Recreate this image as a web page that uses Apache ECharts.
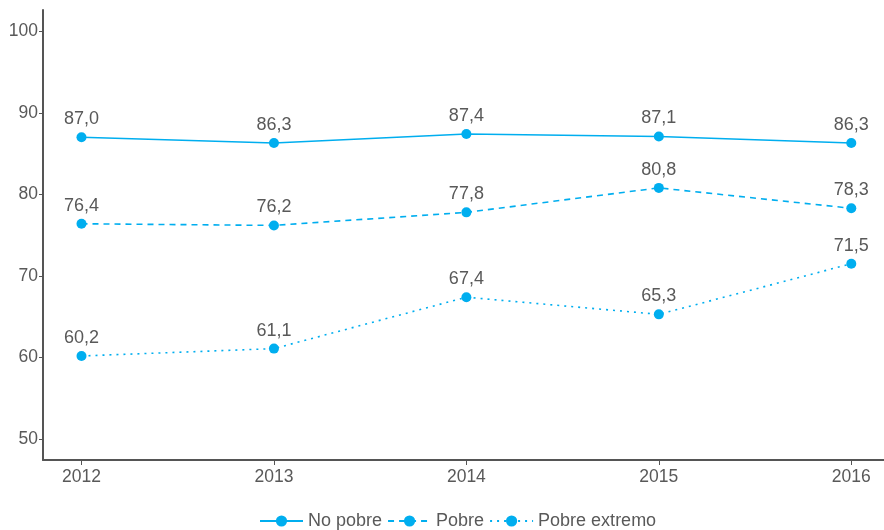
<!DOCTYPE html>
<html lang="en">
<head>
    <meta charset="UTF-8">
    <title>Pobreza</title>
    <style>
        html, body { margin: 0; padding: 0; background: #fff; }
    </style>
</head>
<body>
    <script src="https://cdn.jsdelivr.net/npm/echarts@6/dist/echarts.min.js"></script>
    <div id="main" style="width: 884px;height: 530px;"></div>
    <script>
        var years = [2012, 2013, 2014, 2015, 2016];
        var noPobre = [87.0, 86.3, 87.4, 87.1, 86.3];
        var pobre = [76.4, 76.2, 77.8, 80.8, 78.3];
        var pobreExtremo = [60.2, 61.1, 67.4, 65.3, 71.5];
        var yTicks = [50, 60, 70, 80, 90, 100];

        var blue = '#00aeef';
        var grey = '#595959';

        function pairs(vals) {
            return vals.map(function (v, i) { return [years[i], v]; });
        }

        function makeSeries(name, vals, dash) {
            return {
                name: name,
                type: 'line',
                data: pairs(vals),
                symbol: 'circle',
                symbolSize: 10,
                itemStyle: { color: blue },
                lineStyle: { color: blue, width: 1.6, type: dash },
                label: {
                    show: true,
                    position: 'top',
                    distance: 4,
                    color: grey,
                    fontSize: 18,
                    fontFamily: 'Liberation Sans',
                    formatter: function (p) { return p.value[1].toFixed(1).replace('.', ','); }
                }
            };
        }

        var mCharts = echarts.init(document.getElementById('main'));
        var option = {
            animation: false,
            grid: { left: 43, right: 0, top: 10, bottom: 70 },
            legend: {
                top: 507,
                left: 254,
                itemGap: 5,
                itemWidth: 43,
                textStyle: { color: grey, fontSize: 18, fontFamily: 'Liberation Sans' }
            },
            xAxis: {
                type: 'value',
                min: 2011.8,
                max: 2016.17,
                splitLine: { show: false },
                axisLine: { show: true, lineStyle: { color: '#555', width: 2 } },
                axisTick: { show: true, customValues: years, length: 5, lineStyle: { color: '#555' } },
                axisLabel: {
                    customValues: years, color: grey, fontSize: 17.5, fontFamily: 'Liberation Sans', margin: 8,
                    formatter: function (v) { return String(v); }
                }
            },
            yAxis: {
                type: 'value',
                min: 47.45,
                max: 102.6,
                splitLine: { show: false },
                axisLine: { show: true, lineStyle: { color: '#555', width: 2 } },
                axisTick: { show: true, customValues: yTicks, length: 4, lineStyle: { color: '#555' } },
                axisLabel: { customValues: yTicks, color: grey, fontSize: 17.5, fontFamily: 'Liberation Sans', margin: 5 }
            },
            series: [
                makeSeries('No pobre', noPobre, 'solid'),
                makeSeries('Pobre', pobre, [6, 5]),
                makeSeries('Pobre extremo', pobreExtremo, [2, 5])
            ]
        };
        mCharts.setOption(option);
    </script>
</body>
</html>
